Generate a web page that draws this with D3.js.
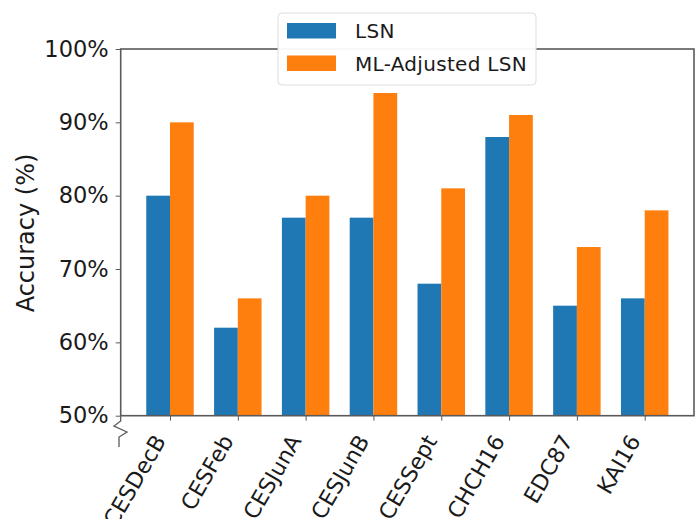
<!DOCTYPE html>
<html><head><meta charset="utf-8">
<script src="https://cdn.jsdelivr.net/npm/d3@7"></script>
<style>body{margin:0;background:#fff}svg{display:block}text{font-family:"DejaVu Sans",sans-serif;fill:#1a1a1a}</style>
</head><body>
<svg id="c" width="699" height="519"></svg>
<script>
const categories = ["CESDecB","CESFeb","CESJunA","CESJunB","CESSept","CHCH16","EDC87","KAI16"];
const lsn = [80,62,77,77,68,88,65,66];
const mlAdjusted = [90,66,80,94,81,91,73,78];
const seriesNames = ["LSN","ML-Adjusted LSN"];
const colors = ["#1f77b4","#ff7f0e"];
const yTicks = [50,60,70,80,90,100];

const svg = d3.select("#c");
const L=120.7, R=694, T=49, B=415.7;
const x = d3.scaleLinear().domain([-0.727, categories.length-1+0.727]).range([L,R]);
const y = d3.scaleLinear().domain([50,100]).range([B,T]);
const bw = 0.35;
const FONT='"DejaVu Sans",sans-serif';

const series=[lsn,mlAdjusted];
series.forEach((vals,si)=>{
  svg.append("g").selectAll("rect").data(vals).join("rect")
    .attr("x",(d,i)=>x(i+(si===0?-bw:0)))
    .attr("width",x(bw)-x(0))
    .attr("y",d=>y(d))
    .attr("height",d=>y(50)-y(d))
    .attr("fill",colors[si]);
});

const axisColor="#5a5a5a";
// y axis
const ya = svg.append("g").attr("transform",`translate(${L},0)`)
  .call(d3.axisLeft(y).tickValues(yTicks).tickSize(5).tickPadding(7).tickFormat(d=>d+"%"));
ya.select(".domain").remove();
ya.selectAll("line").attr("stroke",axisColor);
ya.selectAll("text").attr("font-size",22.5).attr("font-family",FONT).attr("fill","#1a1a1a");
// x axis
const xa = svg.append("g").attr("transform",`translate(0,${B})`)
  .call(d3.axisBottom(x).tickValues(d3.range(categories.length)).tickSize(5).tickFormat(i=>categories[i]));
xa.select(".domain").remove();
xa.selectAll("line").attr("stroke",axisColor);
xa.selectAll("text").attr("font-size",22).attr("font-family",FONT).attr("fill","#1a1a1a")
  .attr("text-anchor","end").attr("dy",null).attr("x",0).attr("y",0)
  .attr("transform","translate(-4,25) rotate(-60)");

// spines
svg.append("rect").attr("x",L).attr("y",T).attr("width",R-L).attr("height",B-T)
  .attr("fill","none").attr("stroke",axisColor).attr("stroke-width",1.6);

// axis break
svg.append("path").attr("d",`M${L},${B} L${L},421 L114,426 L127,432 L119,437 L119,447`)
  .attr("fill","none").attr("stroke",axisColor).attr("stroke-width",1.3);

// y label
svg.append("text").attr("transform","translate(26,233) rotate(-90)")
  .attr("text-anchor","middle").attr("dy","0.35em").attr("font-size",24).text("Accuracy (%)");

// legend
const lg = svg.append("g");
lg.append("rect").attr("x",278).attr("y",13).attr("width",258).attr("height",72).attr("rx",4)
  .attr("fill","white").attr("fill-opacity",0.95).attr("stroke","#ddd").attr("stroke-width",1);
seriesNames.forEach((n,i)=>{
  lg.append("rect").attr("x",287).attr("y",23+i*32.5).attr("width",49).attr("height",15.5).attr("fill",colors[i]);
  lg.append("text").attr("x",355).attr("y",31+i*32.5).attr("dy","0.35em").attr("font-size",20).attr("letter-spacing",0.3).text(n);
});
</script>
</body></html>
